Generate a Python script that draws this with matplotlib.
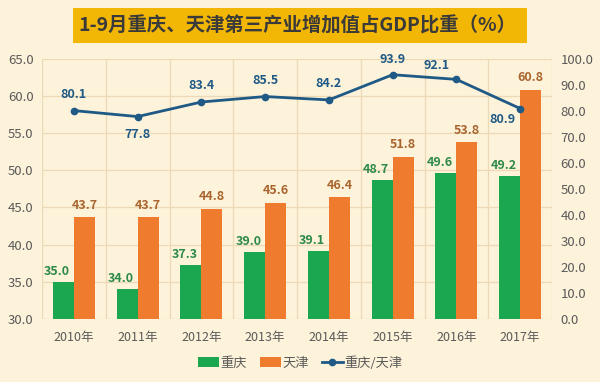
import matplotlib
matplotlib.use("Agg")
import matplotlib.pyplot as plt
from matplotlib.patches import Rectangle
import numpy as np

plt.rcParams['font.family'] = ['Noto Sans CJK SC', 'DejaVu Sans']

years = ["2010年", "2011年", "2012年", "2013年", "2014年", "2015年", "2016年", "2017年"]
chongqing = [35.0, 34.0, 37.3, 39.0, 39.1, 48.7, 49.6, 49.2]
tianjin = [43.7, 43.7, 44.8, 45.6, 46.4, 51.8, 53.8, 60.8]
ratio = [80.1, 77.8, 83.4, 85.5, 84.2, 93.9, 92.1, 80.9]
title = "1-9月重庆、天津第三产业增加值占GDP比重（%）"

bg = "#FDF2DA"
green = "#1BA650"
orange = "#EF7B2E"
blue = "#1E5A85"
grid_c = "#EBDAB5"
tick_c = "#5A5A5A"

fig = plt.figure(figsize=(6.0, 3.82), dpi=100, facecolor=bg)
ax = fig.add_axes([0.07, 0.165, 0.85, 0.681])
ax.set_facecolor(bg)
ax2 = ax.twinx()

x = np.arange(len(years))
w = 0.33
b1 = ax.bar(x - w/2, [v - 30 for v in chongqing], w, bottom=30, color=green, label="重庆", zorder=3)
b2 = ax.bar(x + w/2, [v - 30 for v in tianjin], w, bottom=30, color=orange, label="天津", zorder=3)

for xi, v in zip(x, chongqing):
    ax.annotate(f"{v:.1f}", (xi - w/2, v), xytext=(-4.5, 3), textcoords="offset points",
                ha="center", va="bottom", fontsize=9, fontweight="bold", color="#2E8A4A", zorder=5)
for xi, v in zip(x, tianjin):
    ax.annotate(f"{v:.1f}", (xi + w/2, v), xytext=(0, 4), textcoords="offset points",
                ha="center", va="bottom", fontsize=9, fontweight="bold", color="#A8652E", zorder=5)

ax.set_ylim(30, 65)
ax.set_yticks(np.arange(30, 65.1, 5))
ax.set_yticklabels([f"{v:.1f}" for v in np.arange(30, 65.1, 5)])
ax.set_xlim(-0.5, len(years) - 0.5)
ax.set_xticks(x)
ax.set_xticklabels(years)
ax.set_xticks(np.arange(-0.5, len(years), 1), minor=True)
ax.grid(axis="y", color=grid_c, lw=0.9, zorder=0)
ax.grid(axis="x", which="minor", color=grid_c, lw=0.9, zorder=0)
ax.tick_params(axis="x", which="both", length=0, labelsize=9, colors=tick_c, pad=9)
ax.tick_params(axis="y", length=0, labelsize=9.5, colors=tick_c, pad=6)
for s in ax.spines.values():
    s.set_visible(False)

ln, = ax2.plot(x, ratio, color=blue, lw=2, marker="o", ms=4.5, label="重庆/天津", zorder=4)
ax2.set_ylim(0, 100)
ax2.set_yticks(np.arange(0, 100.1, 10))
ax2.set_yticklabels([f"{v:.1f}" for v in np.arange(0, 100.1, 10)])
ax2.tick_params(axis="y", length=0, labelsize=9.5, colors=tick_c, pad=6)
for s in ax2.spines.values():
    s.set_visible(False)

offsets = [(0, 7, "center", "bottom"), (0, -8, "center", "top"), (0, 7, "center", "bottom"),
           (0, 7, "center", "bottom"), (0, 7, "center", "bottom"), (0, 6, "center", "bottom"),
           (-14, 5, "center", "bottom"), (-13, -3, "center", "top")]
for xi, v, (dx, dy, ha, va) in zip(x, ratio, offsets):
    ax2.annotate(f"{v:.1f}", (xi, v), xytext=(dx, dy), textcoords="offset points",
                 ha=ha, va=va, fontsize=9, fontweight="bold", color=blue, zorder=5)

leg = fig.legend(handles=[b1, b2, ln], labels=["重庆", "天津", "重庆/天津"], loc="center",
                 bbox_to_anchor=(0.5, 0.05), ncol=3, frameon=False, fontsize=9.5,
                 handlelength=1.6, handleheight=0.7, columnspacing=1.0, handletextpad=0.1)
for t in leg.get_texts():
    t.set_color(tick_c)

# title box
bx0, bx1, by0, by1 = 73, 527, 8, 43
fig.patches.append(Rectangle((bx0/600, 1 - by1/382), (bx1 - bx0)/600, (by1 - by0)/382,
                             transform=fig.transFigure, facecolor="#F2B705", edgecolor="none", zorder=0))
tt = fig.text((78 + 517)/2/600, 1 - 26/382, title, ha="center", va="center",
              fontsize=16, fontweight="bold", color="#3A3A3A")
fig.canvas.draw()
wpx = tt.get_window_extent(renderer=fig.canvas.get_renderer()).width
tt.set_fontsize(16 * 439 / wpx)

fig.savefig("out.png", dpi=100, facecolor=bg)
